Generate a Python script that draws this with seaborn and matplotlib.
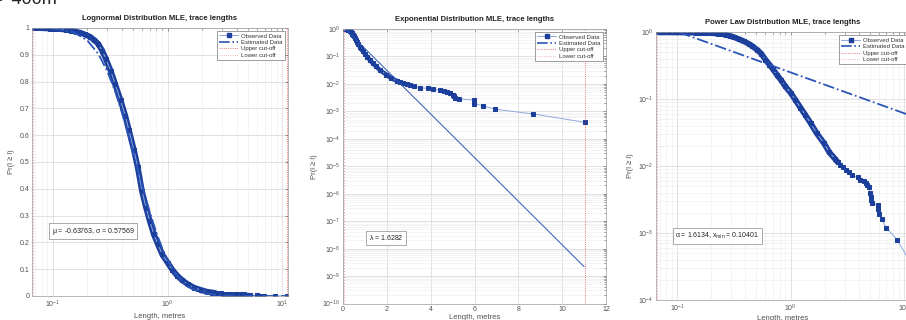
import matplotlib
matplotlib.use("Agg")
import matplotlib.pyplot as plt
import seaborn as sns
import numpy as np
import pandas as pd
from matplotlib.lines import Line2D
from matplotlib.ticker import LogLocator, MultipleLocator, NullFormatter, FuncFormatter

# ---------------- data ----------------
obs_length = [0.067, 0.075, 0.085, 0.095, 0.105, 0.115, 0.13, 0.145, 0.16, 0.175,
              0.19, 0.21, 0.23, 0.25, 0.27, 0.29, 0.32, 0.35, 0.39, 0.43,
              0.46, 0.51, 0.55, 0.6, 0.65, 0.7, 0.76, 0.82, 0.9, 1.0,
              1.1, 1.22, 1.35, 1.5, 1.7, 1.97, 2.2, 2.45, 2.6, 2.75,
              2.9, 3.05, 3.25, 3.5, 3.9, 4.1, 4.42, 4.6, 4.73, 4.9,
              5.03, 5.07, 5.12, 5.27, 5.96, 5.96, 5.97, 6.38, 6.94, 8.69, 11.03]
obs_ccdf = [1.0, 1.0, 0.999, 0.998, 0.997, 0.996, 0.994, 0.99, 0.986, 0.982,
            0.976, 0.968, 0.955, 0.94, 0.915, 0.885, 0.84, 0.79, 0.73, 0.67,
            0.62, 0.544, 0.48, 0.39, 0.33, 0.28, 0.23, 0.195, 0.155, 0.125,
            0.098, 0.075, 0.058, 0.044, 0.031, 0.022, 0.016, 0.013, 0.0115, 0.0105,
            0.0097, 0.0088, 0.0082, 0.0073, 0.0068, 0.0063, 0.006, 0.0056, 0.0052, 0.0048,
            0.004, 0.0035, 0.0031, 0.0028, 0.0026, 0.0023, 0.0019, 0.0016, 0.0012, 0.0008, 0.0004]
dense_limit = 2.6

logn_length = [0.067, 0.1, 0.15, 0.2, 0.25, 0.3, 0.35, 0.4, 0.45, 0.5, 0.55, 0.6,
               0.7, 0.8, 0.9, 1.0, 1.2, 1.5, 2.0, 3.0, 5.0, 11.0]
logn_ccdf = [0.9998, 0.998, 0.9856, 0.954, 0.903, 0.837, 0.763, 0.685, 0.610, 0.538,
             0.472, 0.413, 0.313, 0.236, 0.177, 0.134, 0.077, 0.035, 0.0104, 0.0013,
             0.00001, 0.0]

exp_length = [0.104, 11.0]
exp_ccdf = [1.0, 2.2e-9]

pow_length = [0.10401, 11.3]
pow_ccdf = [1.0, 0.0574]

lower_cut = 0.067
upper_cut = 11.03

titles = ["Lognormal Distribution MLE, trace lengths",
          "Exponential Distribution MLE, trace lengths",
          "Power Law Distribution MLE, trace lengths"]
param_texts = [r"$\mu$ = -0.63763, $\sigma$ = 0.57569",
               r"$\lambda$ = 1.6282",
               r"$\alpha$ = 1.6134, $x_{min}$ = 0.10401"]
legend_labels = ["Observed Data", "Estimated Data", "Upper cut-off", "Lower cut-off"]

# ---------------- style ----------------
sns.set_style("white")
plt.rcParams['font.family'] = ['Liberation Sans', 'DejaVu Sans']
plt.rcParams['mathtext.default'] = 'regular'

DARK = '#1c3f9c'
LIGHT = '#8fa8dc'
EST = '#2a55b8'
RED = '#e8474a'
PINK = '#f0a0a8'
TXT = '#505050'

obs = pd.DataFrame({"length": obs_length, "ccdf": obs_ccdf})
dense = obs[obs["length"] <= dense_limit]

fig = plt.figure(figsize=(9.06, 3.2), dpi=100)
W, H = 906, 320


def make_ax(x0, x1, ytop, ybot):
    return fig.add_axes([x0 / W, (H - ybot) / H, (x1 - x0) / W, (ybot - ytop) / H])


ax1 = make_ax(32, 288, 28, 296)
ax2 = make_ax(343, 606, 29, 303.5)
ax3 = make_ax(656, 910, 32.3, 300)


def draw_obs(ax, lw_dense=4.2):
    sns.lineplot(data=dense, x="length", y="ccdf", ax=ax, color=DARK, lw=lw_dense,
                 estimator=None, sort=False, legend=False)
    sns.lineplot(data=obs, x="length", y="ccdf", ax=ax, color=LIGHT, lw=0.7,
                 marker='s', markersize=2.6, markerfacecolor=DARK, markeredgecolor=DARK,
                 estimator=None, sort=False, legend=False)


def style(ax, title, xpad):
    ax.set_title(title, fontsize=5.5, fontweight='bold', pad=6, color='#222')
    ax.set_xlabel("Length, metres", fontsize=5.5, color=TXT, labelpad=xpad)
    ax.set_ylabel("Pr(l \u2265 l)", fontsize=5.5, color=TXT, labelpad=3)
    ax.tick_params(which='both', direction='in', top=True, right=True,
                   labelsize=5, colors=TXT, width=0.4)
    ax.tick_params(which='major', length=2.5, pad=2)
    ax.tick_params(which='minor', length=1.3)
    for s in ax.spines.values():
        s.set_color('#9a9a9a')
        s.set_linewidth(0.5)
    ax.grid(True, which='major', color='#d6d6d6', lw=0.5)
    ax.grid(True, which='minor', color='#ececec', lw=0.4)
    ax.set_axisbelow(True)


def add_legend(ax):
    handles = [
        Line2D([], [], color=LIGHT, lw=0.7, marker='s', ms=2.2, mfc=DARK, mec=DARK),
        Line2D([], [], color=EST, lw=1.2, ls='-.'),
        Line2D([], [], color=RED, lw=0.6, ls=':'),
        Line2D([], [], color=PINK, lw=0.6, ls=':'),
    ]
    leg = ax.legend(handles, legend_labels, loc='upper right', fontsize=4.3,
                    frameon=True, fancybox=False, edgecolor='#777', framealpha=1,
                    borderpad=0.4, handlelength=3.2, labelspacing=0.2,
                    handletextpad=0.5, borderaxespad=0.5)
    leg.get_frame().set_linewidth(0.5)
    for t in leg.get_texts():
        t.set_color('#333')


def cutoffs(ax):
    ax.axvline(upper_cut, color=RED, lw=0.6, ls=':')
    ax.axvline(lower_cut, color=PINK, lw=0.8, ls=':')


def param_box(ax, x, y, s):
    ax.text(x, y, s, transform=ax.transAxes, ha='center', va='center', fontsize=5,
            color='#222', bbox=dict(boxstyle='square,pad=0.4', fc='white', ec='#888', lw=0.5))


# ----- panel 1: lognormal -----
ax1.set_xscale('log')
draw_obs(ax1)
sns.lineplot(x=logn_length, y=logn_ccdf, ax=ax1, color=EST, lw=1.3, ls='-.',
             estimator=None, sort=False, legend=False)
cutoffs(ax1)
ax1.set_xlim(0.066, 11.2)
ax1.set_ylim(0, 1)
ax1.yaxis.set_major_locator(MultipleLocator(0.1))
style(ax1, titles[0], 2)
ax1.yaxis.set_major_formatter(FuncFormatter(
    lambda v, p: "0" if abs(v) < 1e-9 else ("1" if abs(v - 1) < 1e-9 else f"{v:.1f}")))
add_legend(ax1)
param_box(ax1, 0.238, 0.2425, param_texts[0])

# ----- panel 2: exponential -----
ax2.set_yscale('log')
draw_obs(ax2, lw_dense=3.2)
sns.lineplot(x=exp_length, y=exp_ccdf, ax=ax2, color=EST, lw=0.7, ls='-',
             estimator=None, sort=False, legend=False)
cutoffs(ax2)
ax2.set_xlim(0, 12)
ax2.set_ylim(1e-10, 1)
ax2.xaxis.set_major_locator(MultipleLocator(2))
ax2.yaxis.set_major_locator(LogLocator(base=10, subs=(1.0,), numticks=30))
ax2.yaxis.set_minor_locator(LogLocator(base=10, subs=np.arange(2, 10), numticks=200))
ax2.yaxis.set_minor_formatter(NullFormatter())
style(ax2, titles[1], 0.5)
add_legend(ax2)
param_box(ax2, 0.163, 0.239, param_texts[1])

# ----- panel 3: power law -----
ax3.set_xscale('log')
ax3.set_yscale('log')
draw_obs(ax3)
sns.lineplot(x=pow_length, y=pow_ccdf, ax=ax3, color=EST, lw=1.3, ls='-.',
             estimator=None, sort=False, legend=False)
cutoffs(ax3)
ax3.set_xlim(0.065, 11.3)
ax3.set_ylim(1e-4, 1)
ax3.yaxis.set_minor_locator(LogLocator(base=10, subs=np.arange(2, 10), numticks=200))
ax3.yaxis.set_minor_formatter(NullFormatter())
style(ax3, titles[2], 1)
add_legend(ax3)
param_box(ax3, 0.242, 0.239, param_texts[2])

# fragment of the slide text above the charts
fig.text(-0.004, 0.989, "> 400m", fontsize=13, ha='left', va='baseline', color='#222')

fig.savefig("out.png", dpi=100)
